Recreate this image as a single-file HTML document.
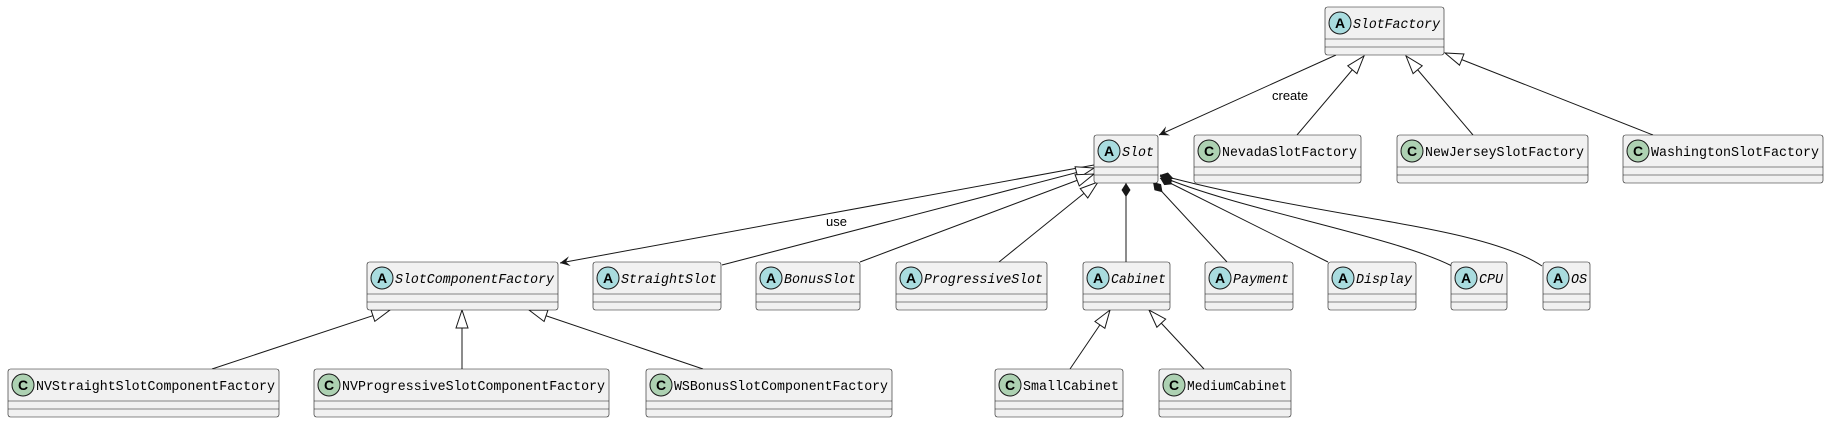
<!DOCTYPE html>
<html><head><meta charset="utf-8"><style>
html,body{margin:0;padding:0;background:#fff;}
svg{display:block;}
text{font-family:"Liberation Mono","DejaVu Sans Mono",monospace;font-size:13.5px;fill:#000;}
.i{font-style:italic;}
.l{font-family:"Liberation Sans","DejaVu Sans",sans-serif;font-size:13px;}
.c{font-family:"Liberation Sans",sans-serif;font-weight:bold;font-size:14px;}
.bx rect{fill:#F1F1F1;stroke:#181818;stroke-width:0.6;}
.bx line{stroke:#181818;stroke-width:0.6;}
.ca{fill:#A9DCDF;stroke:#181818;stroke-width:1;}
.cc{fill:#ADD1B2;stroke:#181818;stroke-width:1;}
</style></head><body>
<svg width="1829" height="424" viewBox="0 0 1829 424" xmlns="http://www.w3.org/2000/svg">
<defs>
<marker id="tri" markerUnits="userSpaceOnUse" viewBox="-1 -1 20 14" refX="18" refY="6" markerWidth="20" markerHeight="14" orient="auto"><path d="M0,0 L18,6 L0,12 Z" fill="#fff" stroke="#181818" stroke-width="1"/></marker>
<marker id="arr" markerUnits="userSpaceOnUse" viewBox="0 0 11 10" refX="10" refY="5" markerWidth="11" markerHeight="10" orient="auto"><path d="M0,0 L10,5 L0,10 L4,5 Z" fill="#181818"/></marker>
<marker id="dia" markerUnits="userSpaceOnUse" viewBox="0 0 15 9" refX="14" refY="4.5" markerWidth="15" markerHeight="9" orient="auto"><path d="M0,4.5 L7,0 L14,4.5 L7,9 Z" fill="#181818"/></marker>
</defs>
<g stroke="#181818" stroke-width="1" fill="none">
<path d="M1336,55 L1159,135" marker-end="url(#arr)"/>
<path d="M1094,165 L560,263" marker-end="url(#arr)"/>
<path d="M1297,135 L1364,56" marker-end="url(#tri)"/>
<path d="M1473,135 L1406,56" marker-end="url(#tri)"/>
<path d="M1653,135 L1445,53" marker-end="url(#tri)"/>
<path d="M722,265 L1094,168" marker-end="url(#tri)"/>
<path d="M860,262 L1094,174" marker-end="url(#tri)"/>
<path d="M999,262 L1098,182" marker-end="url(#tri)"/>
<path d="M1126,262 L1126,183" marker-end="url(#dia)"/>
<path d="M1227,262 L1153,182" marker-end="url(#dia)"/>
<path d="M1328,262 L1160,178" marker-end="url(#dia)"/>
<path d="M1452,266 C1390,235 1240,210 1160,176" marker-end="url(#dia)"/>
<path d="M1542,266 C1480,225 1330,220 1160,175" marker-end="url(#dia)"/>
<path d="M212,369 L390,310" marker-end="url(#tri)"/>
<path d="M462,369 L462,310" marker-end="url(#tri)"/>
<path d="M703,369 L529,310" marker-end="url(#tri)"/>
<path d="M1070,369 L1110,310" marker-end="url(#tri)"/>
<path d="M1204,369 L1149,310" marker-end="url(#tri)"/>
</g>
<text class="l" x="1272" y="100">create</text>
<text class="l" x="826" y="226">use</text>

<g class="bx">
<!-- SlotFactory 1325,7,119 -->
<rect x="1325" y="7" width="119" height="48" rx="2.5"/><line x1="1325" y1="39" x2="1444" y2="39"/><line x1="1325" y1="47" x2="1444" y2="47"/>
<circle class="ca" cx="1340" cy="23" r="11"/><text class="c" x="1340" y="28" text-anchor="middle">A</text>
<text class="i" x="1353" y="28" textLength="87" lengthAdjust="spacingAndGlyphs">SlotFactory</text>

<!-- Slot 1094,135,64 -->
<rect x="1094" y="135" width="64" height="48" rx="2.5"/><line x1="1094" y1="167" x2="1158" y2="167"/><line x1="1094" y1="175" x2="1158" y2="175"/>
<circle class="ca" cx="1109" cy="151" r="11"/><text class="c" x="1109" y="156" text-anchor="middle">A</text>
<text class="i" x="1122" y="156" textLength="32" lengthAdjust="spacingAndGlyphs">Slot</text>

<!-- NevadaSlotFactory 1194,135,167 -->
<rect x="1194" y="135" width="167" height="48" rx="2.5"/><line x1="1194" y1="167" x2="1361" y2="167"/><line x1="1194" y1="175" x2="1361" y2="175"/>
<circle class="cc" cx="1209" cy="151" r="11"/><text class="c" x="1209" y="156" text-anchor="middle">C</text>
<text x="1222" y="156" textLength="135" lengthAdjust="spacingAndGlyphs">NevadaSlotFactory</text>

<!-- NewJerseySlotFactory 1397,135,191 -->
<rect x="1397" y="135" width="191" height="48" rx="2.5"/><line x1="1397" y1="167" x2="1588" y2="167"/><line x1="1397" y1="175" x2="1588" y2="175"/>
<circle class="cc" cx="1412" cy="151" r="11"/><text class="c" x="1412" y="156" text-anchor="middle">C</text>
<text x="1425" y="156" textLength="159" lengthAdjust="spacingAndGlyphs">NewJerseySlotFactory</text>

<!-- WashingtonSlotFactory 1623,135,200 -->
<rect x="1623" y="135" width="200" height="48" rx="2.5"/><line x1="1623" y1="167" x2="1823" y2="167"/><line x1="1623" y1="175" x2="1823" y2="175"/>
<circle class="cc" cx="1638" cy="151" r="11"/><text class="c" x="1638" y="156" text-anchor="middle">C</text>
<text x="1651" y="156" textLength="168" lengthAdjust="spacingAndGlyphs">WashingtonSlotFactory</text>

<!-- SlotComponentFactory 367,262,191 -->
<rect x="367" y="262" width="191" height="48" rx="2.5"/><line x1="367" y1="294" x2="558" y2="294"/><line x1="367" y1="302" x2="558" y2="302"/>
<circle class="ca" cx="382" cy="278" r="11"/><text class="c" x="382" y="283" text-anchor="middle">A</text>
<text class="i" x="395" y="283" textLength="159" lengthAdjust="spacingAndGlyphs">SlotComponentFactory</text>

<!-- StraightSlot 593,262,128 -->
<rect x="593" y="262" width="128" height="48" rx="2.5"/><line x1="593" y1="294" x2="721" y2="294"/><line x1="593" y1="302" x2="721" y2="302"/>
<circle class="ca" cx="608" cy="278" r="11"/><text class="c" x="608" y="283" text-anchor="middle">A</text>
<text class="i" x="621" y="283" textLength="96" lengthAdjust="spacingAndGlyphs">StraightSlot</text>

<!-- BonusSlot 756,262,104 -->
<rect x="756" y="262" width="104" height="48" rx="2.5"/><line x1="756" y1="294" x2="860" y2="294"/><line x1="756" y1="302" x2="860" y2="302"/>
<circle class="ca" cx="771" cy="278" r="11"/><text class="c" x="771" y="283" text-anchor="middle">A</text>
<text class="i" x="784" y="283" textLength="72" lengthAdjust="spacingAndGlyphs">BonusSlot</text>

<!-- ProgressiveSlot 896,262,151 -->
<rect x="896" y="262" width="151" height="48" rx="2.5"/><line x1="896" y1="294" x2="1047" y2="294"/><line x1="896" y1="302" x2="1047" y2="302"/>
<circle class="ca" cx="911" cy="278" r="11"/><text class="c" x="911" y="283" text-anchor="middle">A</text>
<text class="i" x="924" y="283" textLength="119" lengthAdjust="spacingAndGlyphs">ProgressiveSlot</text>

<!-- Cabinet 1083,262,87 -->
<rect x="1083" y="262" width="87" height="48" rx="2.5"/><line x1="1083" y1="294" x2="1170" y2="294"/><line x1="1083" y1="302" x2="1170" y2="302"/>
<circle class="ca" cx="1098" cy="278" r="11"/><text class="c" x="1098" y="283" text-anchor="middle">A</text>
<text class="i" x="1111" y="283" textLength="55" lengthAdjust="spacingAndGlyphs">Cabinet</text>

<!-- Payment 1205,262,88 -->
<rect x="1205" y="262" width="88" height="48" rx="2.5"/><line x1="1205" y1="294" x2="1293" y2="294"/><line x1="1205" y1="302" x2="1293" y2="302"/>
<circle class="ca" cx="1220" cy="278" r="11"/><text class="c" x="1220" y="283" text-anchor="middle">A</text>
<text class="i" x="1233" y="283" textLength="56" lengthAdjust="spacingAndGlyphs">Payment</text>

<!-- Display 1328,262,88 -->
<rect x="1328" y="262" width="88" height="48" rx="2.5"/><line x1="1328" y1="294" x2="1416" y2="294"/><line x1="1328" y1="302" x2="1416" y2="302"/>
<circle class="ca" cx="1343" cy="278" r="11"/><text class="c" x="1343" y="283" text-anchor="middle">A</text>
<text class="i" x="1356" y="283" textLength="56" lengthAdjust="spacingAndGlyphs">Display</text>

<!-- CPU 1451,262,56 -->
<rect x="1451" y="262" width="56" height="48" rx="2.5"/><line x1="1451" y1="294" x2="1507" y2="294"/><line x1="1451" y1="302" x2="1507" y2="302"/>
<circle class="ca" cx="1466" cy="278" r="11"/><text class="c" x="1466" y="283" text-anchor="middle">A</text>
<text class="i" x="1479" y="283" textLength="24" lengthAdjust="spacingAndGlyphs">CPU</text>

<!-- OS 1543,262,47 -->
<rect x="1543" y="262" width="47" height="48" rx="2.5"/><line x1="1543" y1="294" x2="1590" y2="294"/><line x1="1543" y1="302" x2="1590" y2="302"/>
<circle class="ca" cx="1558" cy="278" r="11"/><text class="c" x="1558" y="283" text-anchor="middle">A</text>
<text class="i" x="1571" y="283" textLength="16" lengthAdjust="spacingAndGlyphs">OS</text>

<!-- NVStraightSlotComponentFactory 8,369,271 -->
<rect x="8" y="369" width="271" height="48" rx="2.5"/><line x1="8" y1="401" x2="279" y2="401"/><line x1="8" y1="409" x2="279" y2="409"/>
<circle class="cc" cx="23" cy="385" r="11"/><text class="c" x="23" y="390" text-anchor="middle">C</text>
<text x="36" y="390" textLength="239" lengthAdjust="spacingAndGlyphs">NVStraightSlotComponentFactory</text>

<!-- NVProgressiveSlotComponentFactory 314,369,295 -->
<rect x="314" y="369" width="295" height="48" rx="2.5"/><line x1="314" y1="401" x2="609" y2="401"/><line x1="314" y1="409" x2="609" y2="409"/>
<circle class="cc" cx="329" cy="385" r="11"/><text class="c" x="329" y="390" text-anchor="middle">C</text>
<text x="342" y="390" textLength="263" lengthAdjust="spacingAndGlyphs">NVProgressiveSlotComponentFactory</text>

<!-- WSBonusSlotComponentFactory 646,369,246 -->
<rect x="646" y="369" width="246" height="48" rx="2.5"/><line x1="646" y1="401" x2="892" y2="401"/><line x1="646" y1="409" x2="892" y2="409"/>
<circle class="cc" cx="661" cy="385" r="11"/><text class="c" x="661" y="390" text-anchor="middle">C</text>
<text x="674" y="390" textLength="214" lengthAdjust="spacingAndGlyphs">WSBonusSlotComponentFactory</text>

<!-- SmallCabinet 995,369,128 -->
<rect x="995" y="369" width="128" height="48" rx="2.5"/><line x1="995" y1="401" x2="1123" y2="401"/><line x1="995" y1="409" x2="1123" y2="409"/>
<circle class="cc" cx="1010" cy="385" r="11"/><text class="c" x="1010" y="390" text-anchor="middle">C</text>
<text x="1023" y="390" textLength="96" lengthAdjust="spacingAndGlyphs">SmallCabinet</text>

<!-- MediumCabinet 1159,369,132 -->
<rect x="1159" y="369" width="132" height="48" rx="2.5"/><line x1="1159" y1="401" x2="1291" y2="401"/><line x1="1159" y1="409" x2="1291" y2="409"/>
<circle class="cc" cx="1174" cy="385" r="11"/><text class="c" x="1174" y="390" text-anchor="middle">C</text>
<text x="1187" y="390" textLength="100" lengthAdjust="spacingAndGlyphs">MediumCabinet</text>
</g>
</svg>
</body></html>
